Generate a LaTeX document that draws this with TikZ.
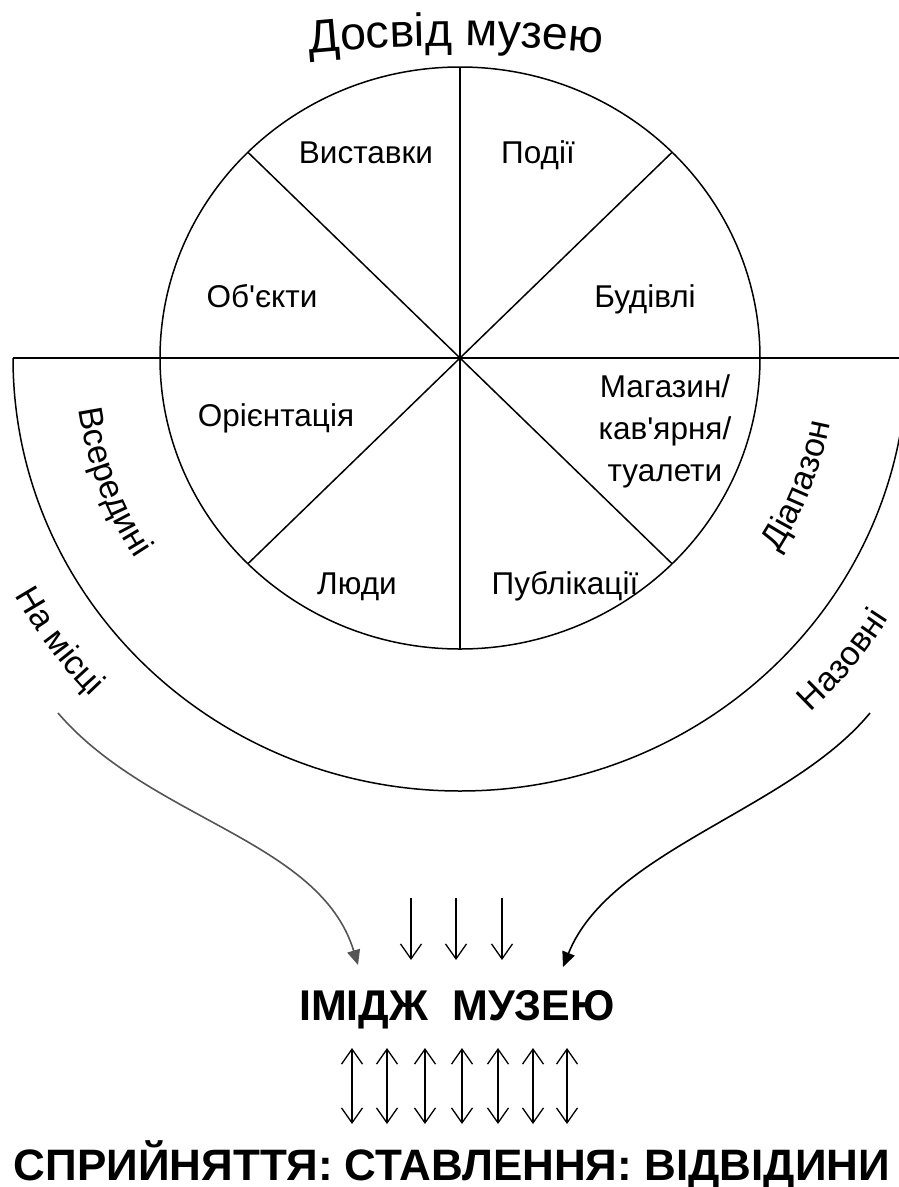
\documentclass[tikz,border=0pt]{standalone}
\usepackage{fontspec}
\setmainfont{Liberation Sans}[Ligatures=TeXOff]
\usetikzlibrary{arrows.meta,decorations.text,calc}
\definecolor{curvegray}{RGB}{85,85,85}

\begin{document}
\begin{tikzpicture}[x=1pt,y=-1pt,line width=1.5pt]
    \tikzset{
        sector/.style={font=\fontsize{31.5}{42}\selectfont, anchor=base, align=center, inner sep=0pt},
        bigword/.style={font=\fontsize{43}{48}\selectfont\bfseries, anchor=base, inner sep=0pt},
        barb/.tip={Straight Barb[length=15pt,width=21pt]},
        downarrow/.style={-barb, line width=1.3pt},
        bothways/.style={barb-barb, line width=1.3pt},
        curvearrow/.style={-{Triangle[length=15pt,width=13pt]}, line width=1.6pt},
        ringtext/.style={decorate, decoration={text along path, text align=center,
            text={|\fontsize{34}{40}\selectfont|#1}}}
    }
    \useasboundingbox (0,0) rectangle (899,1187);

    % Circle of the museum experience
    \coordinate (O) at (460,358);
    \coordinate (T) at (456,1546);
    \path[decorate, decoration={text along path, text align=center,
        text={|\fontsize{46.5}{50}\selectfont|Досвід музею}}]
        ($(T)+(262:1500)$) arc[start angle=262, end angle=278, radius=1500];

    \draw (O) ellipse[x radius=300, y radius=291];
    \foreach \a in {45,90,135}
        \draw ($(O)+(\a:300 and 291)$) -- ($(O)+(\a+180:300 and 291)$);

    \node[sector] (vystavky) at (366,163) {Виставки};
    \node[sector] (podii) at (538,163) {Події};
    \node[sector] (obiekty) at (262,307) {Об'єкти};
    \node[sector] (budivli) at (645,307) {Будівлі};
    \node[sector] (oriientatsiia) at (276,426) {Орієнтація};
    \node[sector, anchor=center] (mahazyn) at (665,431) {Магазин/\\кав'ярня/\\туалети};
    \node[sector] (liudy) at (357,594) {Люди};
    \node[sector] (publikatsii) at (565,594) {Публікації};

    % Range ring
    \draw (13,358) -- (907,358);
    \draw ($(O)+(180:447 and 433)$) arc[start angle=180, end angle=0, x radius=447, y radius=433];

    \path[ringtext=Всередині] ($(O)+(200:385 and 374)$)
        arc[start angle=200, end angle=120, x radius=385, y radius=374];
    \path[ringtext=Діапазон] ($(O)+(61:376 and 365)$)
        arc[start angle=61, end angle=-19, x radius=376, y radius=365];
    \path[ringtext=На місці] ($(O)+(164:508 and 493)$)
        arc[start angle=164, end angle=124, x radius=508, y radius=493];
    \path[ringtext=Назовні] ($(O)+(59:506 and 491)$)
        arc[start angle=59, end angle=19, x radius=506, y radius=491];

    % Image of the museum
    \node[bigword] (imidzh) at (457,1020) {ІМІДЖ\ \ МУЗЕЮ};
    \node[bigword, font=\fontsize{44}{48}\selectfont\bfseries] (spryiniattia) at (452,1180)
        {СПРИЙНЯТТЯ: СТАВЛЕННЯ: ВІДВІДИНИ};

    \coordinate (inside) at (58,713);
    \coordinate (insidetip) at (358,965);
    \draw[curvearrow, curvegray] (inside) .. controls (150,820) and (320,840) .. (insidetip);
    \coordinate (outside) at (870,713);
    \coordinate (outsidetip) at (563,967);
    \draw[curvearrow] (outside) .. controls (790,810) and (610,850) .. (outsidetip);

    \foreach \x [count=\i] in {411,456,502} {
        \coordinate (dtop\i) at (\x,898);
        \coordinate (dtip\i) at (\x,960);
        \draw[downarrow] (dtop\i) -- (dtip\i);
    }
    \foreach \x [count=\i] in {352,387,425,462,498,533,567} {
        \coordinate (up\i) at (\x,1048);
        \coordinate (dn\i) at (\x,1124);
        \draw[bothways] (up\i) -- (dn\i);
    }
\end{tikzpicture}
\end{document}
